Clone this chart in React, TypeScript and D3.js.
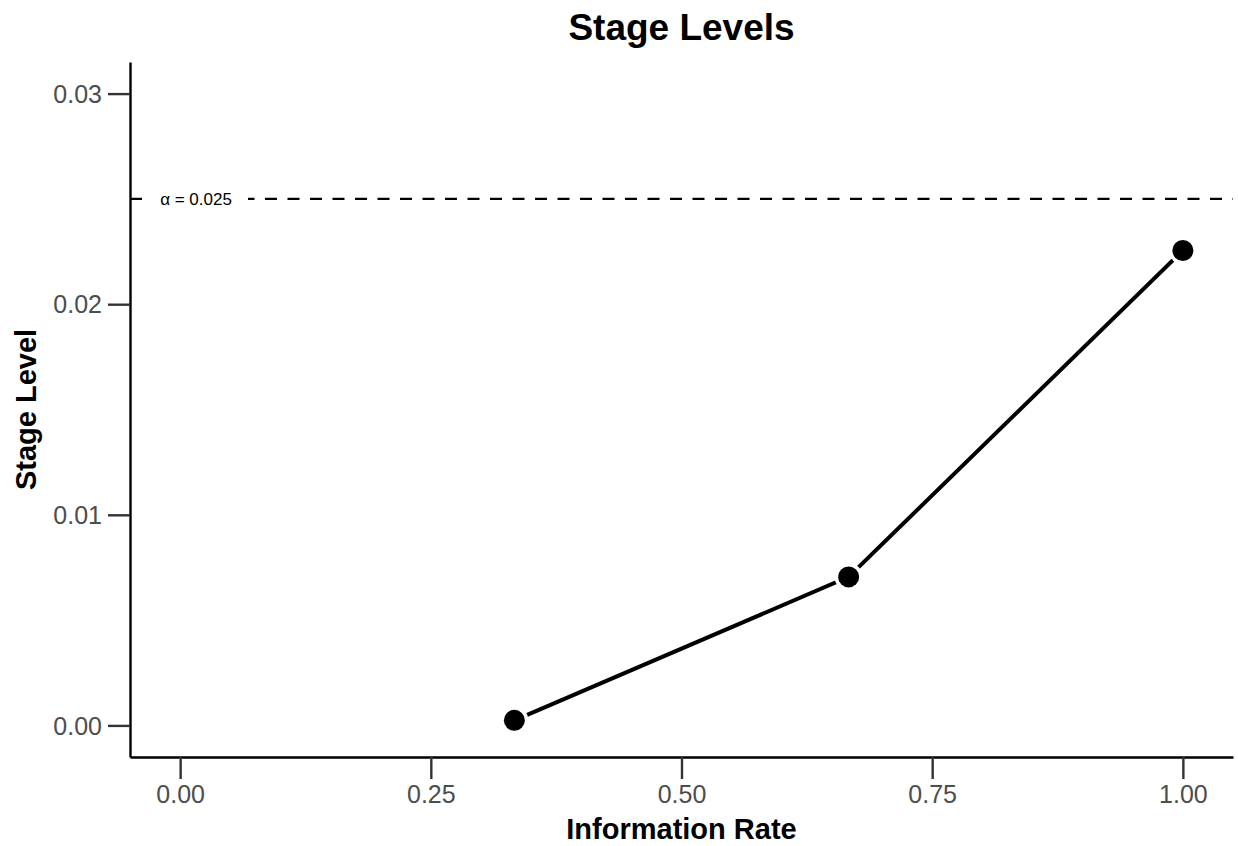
import React, { useEffect, useRef } from 'react';
import * as d3 from 'd3';

// data
const infoRates = [1 / 3, 2 / 3, 1];
const stageLevels = [0.00024, 0.00705, 0.02255];
const alpha = 0.025;
const xTicks = [0, 0.25, 0.5, 0.75, 1];
const yTicks = [0, 0.01, 0.02, 0.03];

function App() {
  const svgRef = useRef<SVGSVGElement>(null);

  useEffect(() => {
    const W = 1238;
    const H = 846;
    const margin = { top: 62, right: 5, bottom: 89, left: 130 };
    const font = 'Liberation Sans, Arial, Helvetica, sans-serif';

    const root = d3.select(svgRef.current);
    root.selectAll('*').remove();
    root.attr('width', W).attr('height', H);

    const x = d3.scaleLinear().domain([-0.05, 1.05]).range([margin.left, W - margin.right]);
    const y = d3.scaleLinear().domain([-0.0015, 0.0315]).range([H - margin.bottom, margin.top]);

    // title
    root.append('text')
      .attr('x', (margin.left + W - margin.right) / 2)
      .attr('y', 40)
      .attr('text-anchor', 'middle')
      .attr('font-family', font)
      .attr('font-weight', 'bold')
      .attr('font-size', 37)
      .text('Stage Levels');

    // alpha reference line
    root.append('line')
      .attr('x1', x(-0.05)).attr('x2', x(1.05))
      .attr('y1', y(alpha)).attr('y2', y(alpha))
      .attr('stroke', 'black')
      .attr('stroke-width', 2.4)
      .attr('stroke-dasharray', '12,10.5');

    root.append('rect')
      .attr('x', 143).attr('y', y(alpha) - 10)
      .attr('width', 105).attr('height', 20)
      .attr('fill', 'white');

    root.append('text')
      .attr('x', 196)
      .attr('y', y(alpha) + 6)
      .attr('text-anchor', 'middle')
      .attr('font-family', font)
      .attr('font-size', 17)
      .text('\u03b1 = 0.025');

    // line
    const pts = infoRates.map((r, i) => [r, stageLevels[i]] as [number, number]);
    const line = d3.line<[number, number]>().x(d => x(d[0])).y(d => y(d[1]));
    root.append('path')
      .attr('d', line(pts))
      .attr('fill', 'none')
      .attr('stroke', 'black')
      .attr('stroke-width', 4);

    // points with white halo
    root.selectAll('.halo')
      .data(pts)
      .enter().append('circle')
      .attr('cx', d => x(d[0]))
      .attr('cy', d => y(d[1]))
      .attr('r', 14)
      .attr('fill', 'white');

    root.selectAll('.pt')
      .data(pts)
      .enter().append('circle')
      .attr('cx', d => x(d[0]))
      .attr('cy', d => y(d[1]))
      .attr('r', 10.5)
      .attr('fill', 'black');

    // x axis
    const gx = root.append('g')
      .attr('transform', `translate(0,${H - margin.bottom})`)
      .call(d3.axisBottom(x).tickValues(xTicks).tickFormat(d3.format('.2f')).tickSize(22).tickSizeOuter(0).tickPadding(6));

    // y axis
    const gy = root.append('g')
      .attr('transform', `translate(${margin.left},0)`)
      .call(d3.axisLeft(y).tickValues(yTicks).tickFormat(d3.format('.2f')).tickSize(22).tickSizeOuter(0).tickPadding(6));

    [gx, gy].forEach(g => {
      g.select('.domain').attr('stroke', 'black').attr('stroke-width', 2.4);
      g.selectAll('.tick line').attr('stroke', '#333').attr('stroke-width', 2.4);
      g.selectAll('.tick text')
        .attr('fill', '#4d4d4d')
        .attr('font-family', font)
        .attr('font-size', 25);
    });
    gy.selectAll('.tick text').attr('dy', '0.35em');

    // axis titles
    root.append('text')
      .attr('x', (margin.left + W - margin.right) / 2)
      .attr('y', 839)
      .attr('text-anchor', 'middle')
      .attr('font-family', font)
      .attr('font-weight', 'bold')
      .attr('font-size', 29)
      .text('Information Rate');

    root.append('text')
      .attr('transform', `translate(36,${(margin.top + H - margin.bottom) / 2}) rotate(-90)`)
      .attr('text-anchor', 'middle')
      .attr('font-family', font)
      .attr('font-weight', 'bold')
      .attr('font-size', 29)
      .text('Stage Level');
  }, []);

  return (
    <svg ref={svgRef} style={{ position: 'absolute', left: 0, top: 0, background: 'white' }}></svg>
  );
}

export default App;
